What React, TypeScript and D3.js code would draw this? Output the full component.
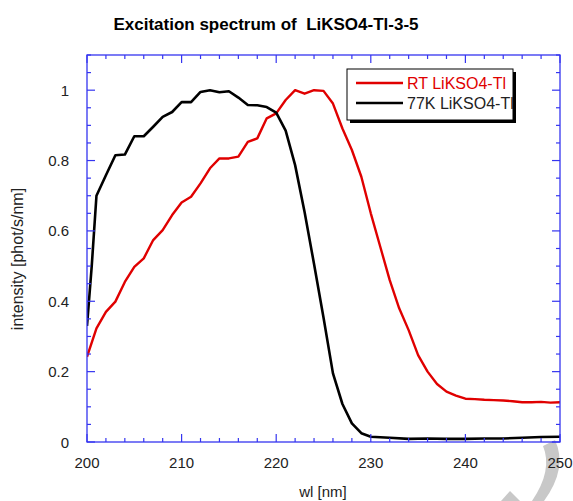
import React from "react";
import * as d3 from "d3";

const W = 573;
const H = 501;

const titleText = "Excitation spectrum of  LiKSO4-Tl-3-5";
const xLabel = "wl [nm]";
const yLabel = "intensity [phot/s/nm]";
const seriesNames = ["RT LiKSO4-Tl", "77K LiKSO4-Tl"];

const xTickValues = [200, 210, 220, 230, 240, 250];
const yTickValues = [0, 0.2, 0.4, 0.6, 0.8, 1];
const yTickLabels = ["0", "0.2", "0.4", "0.6", "0.8", "1"];

const rtWl = [
  200, 201, 202, 203, 204, 205, 206, 207, 208, 209, 210, 211, 212, 213, 214, 215, 216, 217, 218,
  219, 220, 221, 222, 223, 224, 225, 226, 227, 228, 229, 230, 231, 232, 233, 234, 235, 236, 237,
  238, 239, 240, 241, 242, 243, 244, 245, 246, 247, 248, 249, 250,
];
const rtVal = [
  0.242, 0.323, 0.37, 0.399, 0.455, 0.498, 0.522, 0.574, 0.602, 0.645, 0.681, 0.697, 0.735, 0.778,
  0.806, 0.806, 0.811, 0.853, 0.863, 0.92, 0.934, 0.972, 1.0, 0.99, 1.0, 0.998, 0.962, 0.891, 0.83,
  0.754, 0.65, 0.555, 0.46, 0.38, 0.318, 0.247, 0.2, 0.165, 0.143, 0.132, 0.123, 0.122, 0.12,
  0.119, 0.118, 0.116, 0.113, 0.113, 0.114, 0.112, 0.113,
];

const lnWl = [
  200, 200.5, 201, 202, 203, 204, 205, 206, 207, 208, 209, 210, 211, 212, 213, 214, 215, 216, 217,
  218, 219, 220, 221, 222, 223, 224, 225, 226, 227, 228, 229, 230, 232, 234, 236, 238, 240, 242,
  244, 246, 248, 250,
];
const lnVal = [
  0.33, 0.5, 0.7, 0.758, 0.815, 0.817, 0.869, 0.869, 0.896, 0.924, 0.938, 0.966, 0.966, 0.995, 1.0,
  0.994, 0.997, 0.979, 0.958, 0.957, 0.952, 0.936, 0.885, 0.787, 0.654, 0.506, 0.354, 0.195, 0.108,
  0.053, 0.025, 0.015, 0.012, 0.009, 0.01, 0.009, 0.009, 0.01, 0.01, 0.012, 0.014, 0.015,
];

const seriesColors = ["#e00000", "#000000"];

export default function App() {
  const left = 87;
  const right = 560;
  const top = 55;
  const bottom = 442;

  const x = d3.scaleLinear().domain([200, 250]).range([left, right]);
  const y = d3.scaleLinear().domain([0, 1.1]).range([bottom, top]);

  const line = d3
    .line<[number, number]>()
    .x((d) => x(d[0]))
    .y((d) => y(d[1]));

  const rtPts: [number, number][] = rtWl.map((w, i) => [w, rtVal[i]]);
  const lnPts: [number, number][] = lnWl.map((w, i) => [w, lnVal[i]]);

  const axisColor = "#3535f0";
  const font = "Liberation Sans, Arial, sans-serif";
  const textColor = "#222";

  const xMinor = d3.range(200, 250.001, 2);
  const yMinor = d3.range(0, 1.1001, 0.05);

  const isMajorX = (v: number) => Math.abs(v / 10 - Math.round(v / 10)) < 1e-6;
  const isMajorY = (v: number) => Math.abs(v / 0.2 - Math.round(v / 0.2)) < 1e-6;

  const lg = { x: 347, y: 69, w: 166, h: 51 };

  return (
    <svg
      width={W}
      height={H}
      style={{ position: "absolute", left: 0, top: 0, background: "#fff" }}
      fontFamily={font}
    >
      <rect x={0} y={0} width={W} height={H} fill="#fff" />
      {/* watermark fragments */}
      <path
        d="M 555 440 Q 568 468 544 501 L 532 501 Q 553 470 543 446 Z"
        fill="#c8c8c8"
      />
      <path d="M 501 501 L 510 491 L 520 501 Z" fill="#c8c8c8" />

      <text
        x={266}
        y={30}
        textAnchor="middle"
        fontSize={17}
        fontWeight="bold"
        fill="#000"
        style={{ whiteSpace: "pre" }}
      >
        {titleText}
      </text>

      <defs>
        <clipPath id="clip">
          <rect x={left} y={top} width={right - left} height={bottom - top} />
        </clipPath>
      </defs>

      {/* data lines */}
      <g clipPath="url(#clip)">
        <path
          d={line(rtPts) || ""}
          fill="none"
          stroke={seriesColors[0]}
          strokeWidth={2.4}
          strokeLinejoin="round"
        />
        <path
          d={line(lnPts) || ""}
          fill="none"
          stroke={seriesColors[1]}
          strokeWidth={2.6}
          strokeLinejoin="round"
        />
      </g>

      {/* frame */}
      <rect
        x={left}
        y={top}
        width={right - left}
        height={bottom - top}
        fill="none"
        stroke={axisColor}
        strokeWidth={1.3}
      />

      {/* x ticks */}
      {xMinor.map((v) => {
        const len = isMajorX(v) ? 8 : 4;
        const px = x(v);
        return (
          <g key={"xt" + v}>
            <line x1={px} x2={px} y1={bottom} y2={bottom - len} stroke={axisColor} strokeWidth={1.2} />
            <line x1={px} x2={px} y1={top} y2={top + len} stroke={axisColor} strokeWidth={1.2} />
          </g>
        );
      })}
      {/* y ticks */}
      {yMinor.map((v) => {
        const len = isMajorY(v) ? 8 : 4;
        const py = y(v);
        return (
          <g key={"yt" + v.toFixed(2)}>
            <line x1={left} x2={left + len} y1={py} y2={py} stroke={axisColor} strokeWidth={1.2} />
            <line x1={right} x2={right - len} y1={py} y2={py} stroke={axisColor} strokeWidth={1.2} />
          </g>
        );
      })}

      {/* tick labels */}
      {xTickValues.map((v) => (
        <text key={"xl" + v} x={x(v)} y={468} textAnchor="middle" fontSize={15} fill={textColor}>
          {v}
        </text>
      ))}
      {yTickValues.map((v, i) => (
        <text key={"yl" + v} x={69} y={y(v) + 5.5} textAnchor="end" fontSize={15} fill={textColor}>
          {yTickLabels[i]}
        </text>
      ))}

      <text x={323} y={497} textAnchor="middle" fontSize={15} fill={textColor}>
        {xLabel}
      </text>
      <text
        transform={`translate(23, 259) rotate(-90)`}
        textAnchor="middle"
        fontSize={16}
        fill={textColor}
      >
        {yLabel}
      </text>

      {/* legend */}
      <rect x={lg.x + 3} y={lg.y + 3} width={lg.w} height={lg.h} fill="#000" />
      <rect x={lg.x} y={lg.y} width={lg.w} height={lg.h} fill="#fff" stroke="#000" strokeWidth={1} />
      <line x1={356} x2={403} y1={83} y2={83} stroke={seriesColors[0]} strokeWidth={2.4} />
      <text x={407} y={89} fontSize={16} fill={seriesColors[0]}>
        {seriesNames[0]}
      </text>
      <line x1={356} x2={403} y1={103} y2={103} stroke={seriesColors[1]} strokeWidth={2.6} />
      <text x={407} y={109} fontSize={16} fill={textColor}>
        {seriesNames[1]}
      </text>
    </svg>
  );
}
